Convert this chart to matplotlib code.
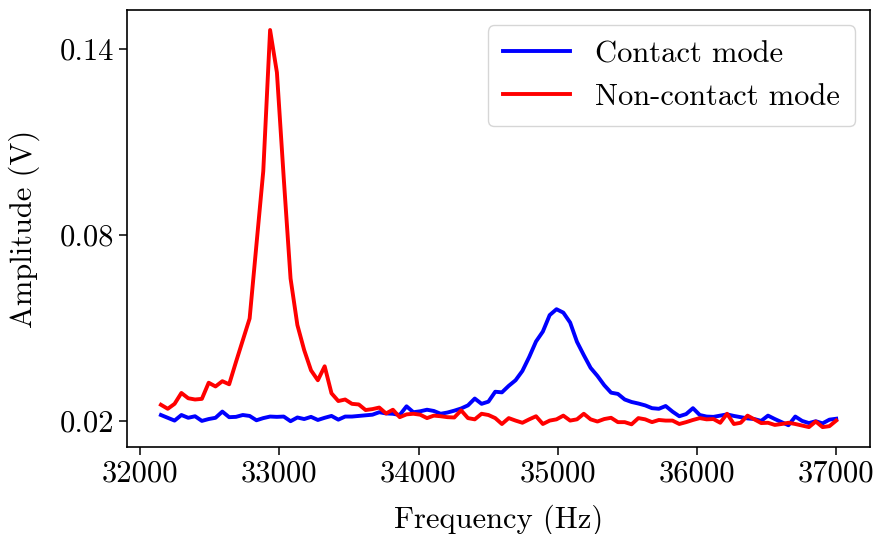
import matplotlib
matplotlib.use("Agg")
import matplotlib.pyplot as plt

plt.rcParams['font.family'] = ['cmr10', 'DejaVu Serif']
plt.rcParams['mathtext.fontset'] = 'cm'
plt.rcParams['axes.unicode_minus'] = False
plt.rcParams['axes.formatter.use_mathtext'] = True

# частоты развёртки (Гц)
freq = [32150, 32199, 32248, 32297, 32346, 32395, 32444, 32493, 32542, 32591,
        32640, 32689, 32738, 32787, 32836, 32885, 32934, 32983, 33032, 33081,
        33130, 33179, 33228, 33277, 33326, 33375, 33424, 33473, 33522, 33571,
        33620, 33669, 33718, 33767, 33816, 33865, 33914, 33963, 34012, 34061,
        34110, 34159, 34208, 34257, 34306, 34355, 34404, 34453, 34502, 34551,
        34599, 34648, 34697, 34746, 34795, 34844, 34893, 34942, 34991, 35040,
        35089, 35138, 35187, 35236, 35285, 35334, 35383, 35432, 35481, 35530,
        35579, 35628, 35677, 35726, 35775, 35824, 35873, 35922, 35971, 36020,
        36069, 36118, 36167, 36216, 36265, 36314, 36363, 36412, 36461, 36510,
        36559, 36608, 36657, 36706, 36755, 36804, 36853, 36902, 36951, 37000]

# контактный режим (В)
contact = [0.0220, 0.0211, 0.0202, 0.0220, 0.0211, 0.0216, 0.0201, 0.0207, 0.0211, 0.0231,
           0.0213, 0.0214, 0.0220, 0.0217, 0.0203, 0.0210, 0.0215, 0.0214, 0.0215, 0.0200,
           0.0212, 0.0207, 0.0214, 0.0204, 0.0211, 0.0217, 0.0205, 0.0215, 0.0215, 0.0217,
           0.0219, 0.0221, 0.0229, 0.0225, 0.0224, 0.0220, 0.0248, 0.0229, 0.0232, 0.0237,
           0.0233, 0.0224, 0.0228, 0.0234, 0.0241, 0.0251, 0.0273, 0.0256, 0.0263, 0.0295,
           0.0293, 0.0314, 0.0332, 0.0362, 0.0407, 0.0457, 0.0489, 0.0542, 0.0561, 0.0550,
           0.0518, 0.0456, 0.0413, 0.0372, 0.0346, 0.0316, 0.0292, 0.0288, 0.0270, 0.0262,
           0.0257, 0.0251, 0.0242, 0.0240, 0.0249, 0.0231, 0.0216, 0.0223, 0.0242, 0.0220,
           0.0215, 0.0214, 0.0218, 0.0222, 0.0217, 0.0213, 0.0209, 0.0207, 0.0201, 0.0218,
           0.0207, 0.0197, 0.0187, 0.0215, 0.0201, 0.0194, 0.0200, 0.0193, 0.0205, 0.0208]

# бесконтактный режим (В)
noncontact = [0.0253, 0.0240, 0.0256, 0.0291, 0.0274, 0.0270, 0.0272, 0.0324, 0.0312, 0.0329,
              0.0319, 0.0391, 0.0461, 0.0531, 0.0769, 0.1006, 0.1461, 0.1324, 0.0984, 0.0660,
              0.0510, 0.0429, 0.0364, 0.0332, 0.0377, 0.0290, 0.0265, 0.0270, 0.0256, 0.0254,
              0.0236, 0.0239, 0.0244, 0.0225, 0.0237, 0.0213, 0.0222, 0.0224, 0.0221, 0.0210,
              0.0218, 0.0216, 0.0213, 0.0212, 0.0235, 0.0210, 0.0206, 0.0224, 0.0220, 0.0210,
              0.0191, 0.0210, 0.0202, 0.0195, 0.0206, 0.0216, 0.0191, 0.0202, 0.0206, 0.0218,
              0.0202, 0.0206, 0.0224, 0.0206, 0.0199, 0.0207, 0.0211, 0.0197, 0.0197, 0.0190,
              0.0210, 0.0206, 0.0197, 0.0204, 0.0202, 0.0202, 0.0191, 0.0197, 0.0204, 0.0210,
              0.0206, 0.0207, 0.0195, 0.0224, 0.0191, 0.0195, 0.0218, 0.0206, 0.0194, 0.0195,
              0.0188, 0.0191, 0.0195, 0.0191, 0.0186, 0.0181, 0.0199, 0.0181, 0.0184, 0.0202]

x_ticks = [32000, 33000, 34000, 35000, 36000, 37000]
y_ticks = [0.02, 0.08, 0.14]

fig = plt.figure(figsize=(8.77, 5.34), dpi=100)
ax = fig.add_axes([0.145, 0.163, 0.847, 0.818])

ax.plot(freq, contact, color='blue', lw=2.8, label='Contact mode')
ax.plot(freq, noncontact, color='red', lw=2.8, label='Non-contact mode')

ax.set_xticks(x_ticks)
ax.set_xticklabels([str(t) for t in x_ticks])
ax.set_yticks(y_ticks)
ax.set_yticklabels(['0.02', '0.08', '0.14'])
ax.tick_params(labelsize=22, length=6, width=1.1)
for s in ax.spines.values():
    s.set_linewidth(1.2)

ax.set_xlabel('Frequency (Hz)', fontsize=22, labelpad=12)
ax.set_ylabel('Amplitude (V)', fontsize=22, labelpad=14)
ax.legend(loc='upper right', fontsize=22, handlelength=2.2, borderpad=0.5,
          labelspacing=0.5, handletextpad=0.8, borderaxespad=0.5)

fig.savefig('out.png', dpi=100)
